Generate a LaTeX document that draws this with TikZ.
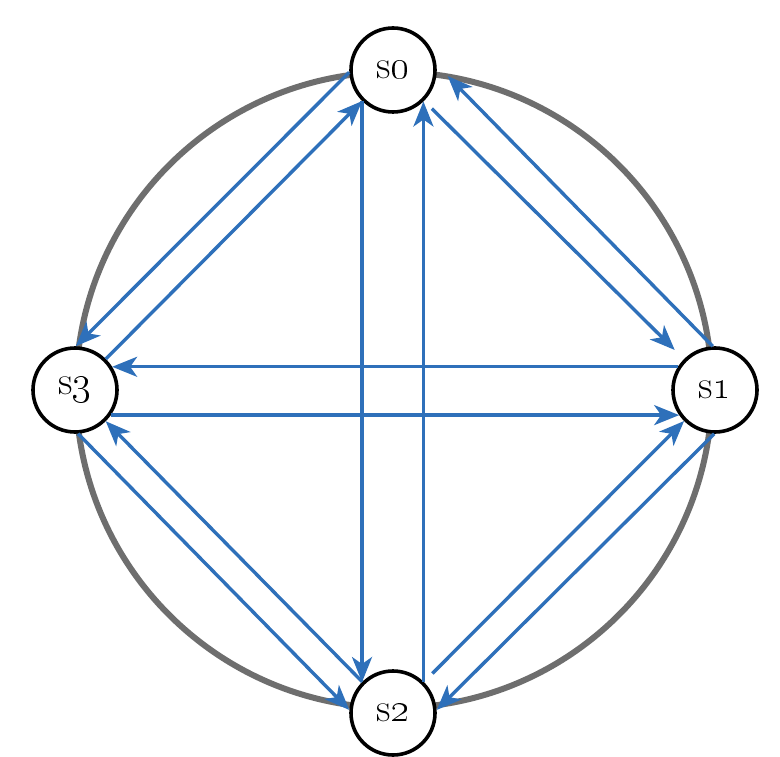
\RequirePackage{fix-cm}
\documentclass[tikz,border=0pt]{standalone}
\usetikzlibrary{arrows.meta}
\definecolor{linkblue}{RGB}{46,112,186}
\definecolor{ringgray}{RGB}{110,110,110}
\begin{document}
\begin{tikzpicture}[x=0.5pt,y=0.5pt,
	state/.style={circle, draw=black, line width=1.8pt, fill=white, minimum size=42pt, inner sep=0pt, font=\fontsize{20}{24}\selectfont},
	link/.style={-{Stealth[length=12.5pt,width=10pt,inset=3.5pt]}, draw=linkblue, line width=1.7pt}]
	\useasboundingbox (0,0) rectangle (780,756);
	% ring
	\draw[ringgray, line width=3pt] (394,366) circle (159pt);
	% states
	\node[state] (s0) at (393,686) {s\oldstylenums{0}};
	\node[state] (s1) at (715,366) {s\oldstylenums{1}};
	\node[state] (s2) at (393,43) {s\oldstylenums{2}};
	\node[state] (s3) at (75,366) {s\oldstylenums{3}};
	% straight across
	\draw[link] (s0.225) -- (s2.135);
	\draw[link] (s2.46) -- (s0.314);
	\draw[link] (s1.148) -- (s3.32);
	\draw[link] (s3.325) -- (s1.215);
	% diagonals, centre lines
	\draw[link, shorten <=5.5pt, shorten >=6.5pt] (s0) -- (s1);
	\draw[link, shorten <=6pt] (s2) -- (s1);
	\draw[link] (s3) -- (s0);
	\draw[link] (s2) -- (s3);
	% diagonals, outer lines
	\draw[link, shorten >=8pt] (s1.93) -- (s0.7);
	\draw[link] (s0.183) -- (s3.89);
	\draw[link] (s3.274) -- (s2.176);
	\draw[link] (s1.269) -- (s2.4);
\end{tikzpicture}
\end{document}
